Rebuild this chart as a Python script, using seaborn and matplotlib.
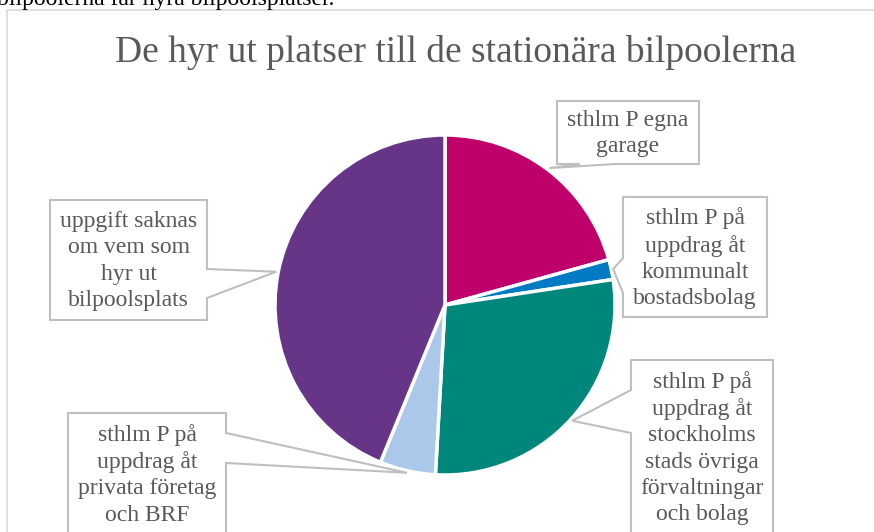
"""
Pie chart: who rents out spaces to the stationary car pools.
"""
import numpy as np
import matplotlib.pyplot as plt
import seaborn as sns
from matplotlib.patches import Polygon, Rectangle

# data
labels = [
    "sthlm P egna\ngarage",
    "sthlm P på\nuppdrag åt\nkommunalt\nbostadsbolag",
    "sthlm P på\nuppdrag åt\nstockholms\nstads övriga\nförvaltningar\noch bolag",
    "sthlm P på\nuppdrag åt\nprivata företag\noch BRF",
    "uppgift saknas\nom vem som\nhyr ut\nbilpoolsplats",
]
shares = [20.7, 1.9, 28.3, 5.3, 43.8]
colors = ["#C0006A", "#007AC2", "#00877B", "#ABC8EA", "#673587"]

title = "De hyr ut platser till de stationära bilpoolerna"
page_text = "bilpoolerna får hyra bilpoolsplatser."

# callout boxes in pixels: (x0, y0, x1, y1, side the pointer leaves from, pointer base a, b)
boxes = [
    (557, 101, 699, 164, "bottom", 580, 615),
    (623, 197, 767, 317, "left", 258, 293),
    (631, 360, 773, 545, "left", 390, 433),
    (68, 413, 226, 545, "right", 433, 463),
    (50, 200, 207, 320, "right", 269, 298),
]

W, H = 874, 532
CX, CY, R = 445, 305, 170

sns.set_theme(style="white")
plt.rcParams["font.family"] = ["Liberation Serif", "DejaVu Serif"]

fig = plt.figure(figsize=(W / 100, H / 100), dpi=100)
ax = fig.add_axes([0, 0, 1, 1])
ax.axis("off")


def Y(y):
    # pixel row -> data y
    return H - y


# chart frame
ax.add_patch(Rectangle((7, Y(560)), 900, 550, fill=False, edgecolor="#D9D9D9", lw=1.2))

wedges, _ = ax.pie(
    shares,
    colors=colors,
    startangle=90,
    counterclock=False,
    center=(CX, Y(CY)),
    radius=R,
    wedgeprops=dict(edgecolor="white", linewidth=2.5),
)
ax.set_xlim(0, W)
ax.set_ylim(0, H)
ax.set_aspect("equal")

for w, lab, (x0, y0, x1, y1, side, a, b) in zip(wedges, labels, boxes):
    mid = np.deg2rad((w.theta1 + w.theta2) / 2)
    tx = CX + (R + 2) * np.cos(mid)
    ty = CY - (R + 2) * np.sin(mid)
    if side == "bottom":
        pts = [(x0, y0), (x1, y0), (x1, y1), (b, y1), (tx, ty), (a, y1), (x0, y1)]
    elif side == "left":
        pts = [(x0, y0), (x1, y0), (x1, y1), (x0, y1), (x0, b), (tx, ty), (x0, a)]
    else:
        pts = [(x0, y0), (x1, y0), (x1, a), (tx, ty), (x1, b), (x1, y1), (x0, y1)]
    ax.add_patch(Polygon([(px, Y(py)) for px, py in pts], closed=True,
                         facecolor="white", edgecolor="#BFBFBF", lw=1.5, zorder=3))
    if y1 < H:
        ax.text((x0 + x1) / 2, Y((y0 + y1) / 2 + 1), lab, ha="center", va="center",
                fontsize=17, color="#595959", linespacing=1.32, zorder=4)
    else:
        ax.text((x0 + x1) / 2, Y(y0 + 11), lab, ha="center", va="top",
                fontsize=17, color="#595959", linespacing=1.32, zorder=4)

ax.text(456, Y(52), title, ha="center", va="center", fontsize=27, color="#595959")
ax.text(-3, Y(5), page_text, ha="left", va="baseline", fontsize=17, color="black")

fig.savefig("out.png", dpi=100)
